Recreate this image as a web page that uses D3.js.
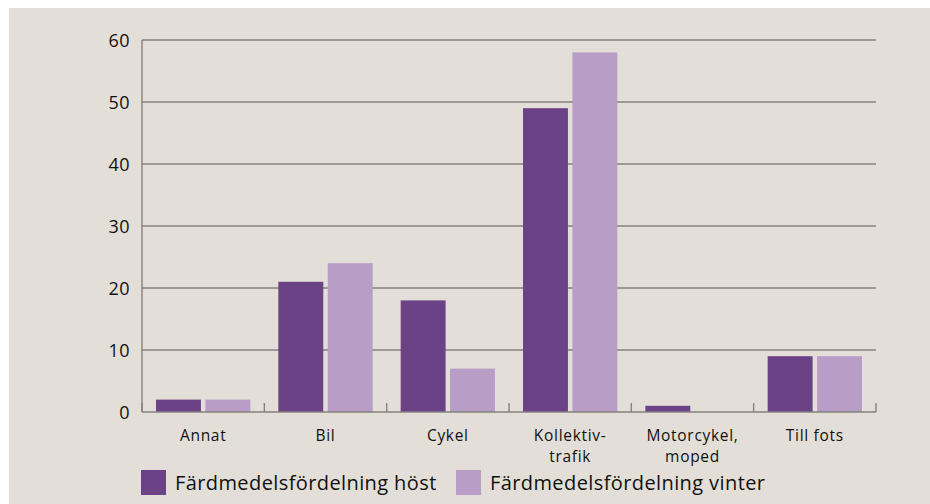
<!DOCTYPE html>
<html>
<head>
<meta charset="utf-8">
<script src="https://cdn.jsdelivr.net/npm/d3@7"></script>
<style>
body { margin: 0; background: #fff; }
svg { display: block; font-family: "Open Sans", "Noto Sans", sans-serif; }
.grid line { stroke: #85817c; stroke-width: 1.4px; }
.axis path, .axis line { stroke: #85817c; stroke-width: 1.4px; }
.axis text { fill: #111; }
</style>
</head>
<body>
<svg id="chart" width="930" height="504"></svg>
<script>
// data
var categories = ["Annat", "Bil", "Cykel", "Kollektiv-\ntrafik", "Motorcykel,\nmoped", "Till fots"];
var series = ["Färdmedelsfördelning höst", "Färdmedelsfördelning vinter"];
var autumn = [2, 21, 18, 49, 1, 9];
var winter = [2, 24, 7, 58, 0, 9];
var yTicks = [0, 10, 20, 30, 40, 50, 60];
var colors = ["#6b4285", "#b89dc6"];

var svg = d3.select("#chart");
svg.append("rect").attr("x", 9).attr("y", 8).attr("width", 921).attr("height", 496).attr("fill", "#e3dfd8");

var margin = { left: 142, right: 54, top: 40, bottom: 92 };
var w = 930 - margin.left - margin.right,
    h = 504 - margin.top - margin.bottom;

var g = svg.append("g").attr("transform", "translate(" + margin.left + "," + margin.top + ")");

var x = d3.scaleBand().domain(categories).range([0, w]).paddingInner(0).paddingOuter(0);
var x1 = d3.scaleBand().domain(series).range([14, x.bandwidth() - 14]).paddingInner(0.09);
var y = d3.scaleLinear().domain([0, 60]).range([h, 0]);

// grid
g.append("g").attr("class", "grid")
  .selectAll("line").data(yTicks.slice(1)).join("line")
  .attr("x1", 0).attr("x2", w)
  .attr("y1", function(d) { return y(d); }).attr("y2", function(d) { return y(d); });

// bars
var rows = categories.map(function(c, i) { return [autumn[i], winter[i]]; });
g.selectAll("g.cat").data(rows).join("g").attr("class", "cat")
  .attr("transform", function(d, i) { return "translate(" + x(categories[i]) + ",0)"; })
  .selectAll("rect").data(function(d) { return d; }).join("rect")
  .attr("x", function(d, j) { return x1(series[j]); })
  .attr("width", x1.bandwidth())
  .attr("y", function(d) { return y(d); })
  .attr("height", function(d) { return h - y(d); })
  .attr("fill", function(d, j) { return colors[j]; });

// y axis
var yAxis = g.append("g").attr("class", "axis")
  .call(d3.axisLeft(y).tickValues(yTicks).tickSize(0).tickPadding(12))
  .attr("font-family", null).attr("font-size", null);
yAxis.select(".domain").remove();
yAxis.append("line").attr("x1", 0).attr("x2", 0).attr("y1", 0).attr("y2", h);
yAxis.selectAll("text").style("font-size", "18px").style("letter-spacing", "0.5px").attr("dy", "0.35em");

// x axis line + ticks at band boundaries (pointing up)
var xa = g.append("g").attr("class", "axis");
xa.append("line").attr("x1", 0).attr("x2", w).attr("y1", h).attr("y2", h);
var bounds = categories.map(function(c) { return x(c); }).concat([w]);
xa.selectAll("line.tk").data(bounds).join("line").attr("class", "tk")
  .attr("x1", function(d) { return d; }).attr("x2", function(d) { return d; })
  .attr("y1", h).attr("y2", h - 9);

// x labels, one text per line
var lines = [];
categories.forEach(function(c) {
  c.split("\n").forEach(function(t, i) { lines.push({ cat: c, text: t, row: i }); });
});
g.append("g").attr("class", "axis").selectAll("text").data(lines).join("text")
  .attr("text-anchor", "middle")
  .attr("x", function(d) { return x(d.cat) + x.bandwidth() / 2; })
  .attr("y", function(d) { return h + 29 + d.row * 20.5; })
  .style("font-size", "15.5px")
  .style("letter-spacing", "0.7px")
  .text(function(d) { return d.text; });

// legend
var legendX = [141, 456];
var lg = svg.append("g").selectAll("g").data(series).join("g")
  .attr("transform", function(d, i) { return "translate(" + legendX[i] + ",470)"; });
lg.append("rect").attr("width", 25).attr("height", 25).attr("fill", function(d, i) { return colors[i]; });
lg.append("text").attr("x", 34).attr("y", 20).text(function(d) { return d; })
  .style("font-size", "20px").style("letter-spacing", "0.4px").attr("fill", "#111");
</script>
</body>
</html>
